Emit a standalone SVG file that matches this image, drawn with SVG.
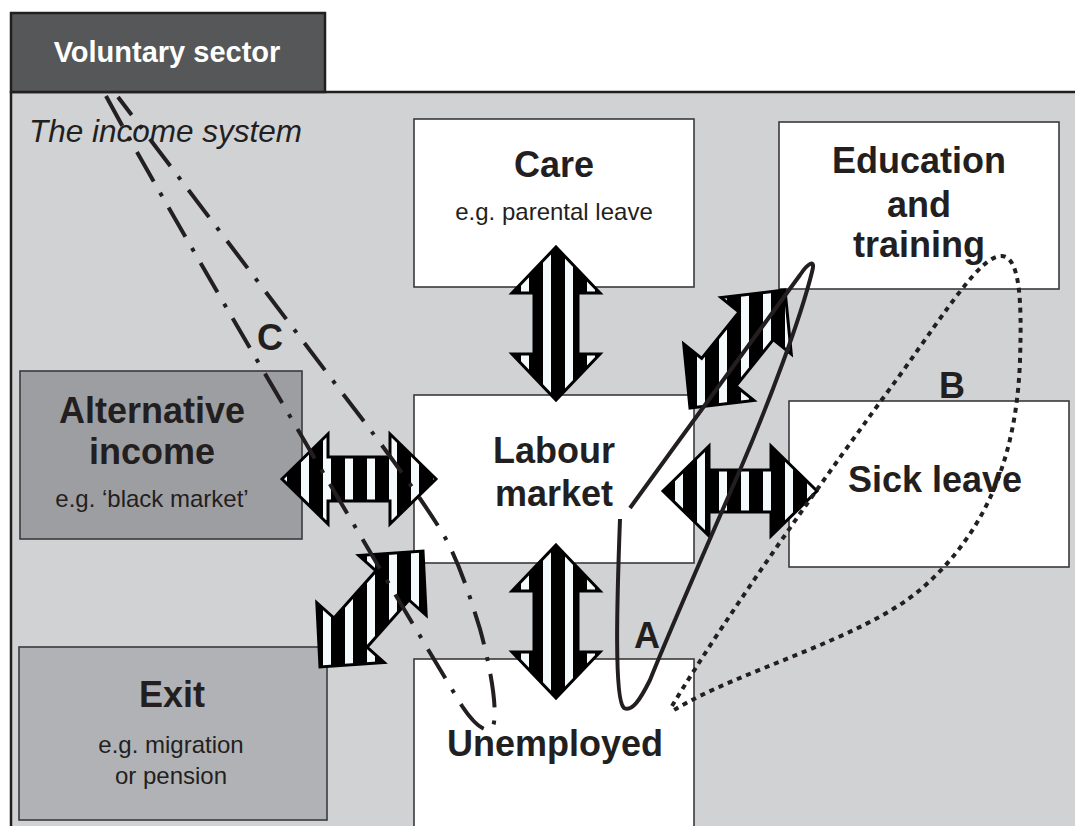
<svg xmlns="http://www.w3.org/2000/svg" width="1075" height="826" viewBox="0 0 1075 826">
<style>
.box{stroke:#3a3a3c;stroke-width:1.6}
.white{fill:#ffffff}
.t{font-family:"Liberation Sans",Arial,sans-serif;fill:#231f20;text-anchor:middle}
.title{font-weight:bold;font-size:36px}
.sub{font-size:24px}
.lbl{font-weight:bold;font-size:36px}
.arrow{fill:url(#stripes);stroke:#000;stroke-width:3;stroke-linejoin:miter}
.loop{fill:none;stroke:#231f20;stroke-width:4}
</style>
<defs>
<pattern id="stripes" patternUnits="userSpaceOnUse" x="15" y="0" width="22" height="10">
<rect x="0" y="0" width="22" height="10" fill="#000"/>
<rect x="0" y="0" width="8" height="10" fill="#f4f9fc"/>
</pattern>
</defs>

<g id="income-system">
<rect x="11" y="92" width="1080" height="760" fill="#d1d2d4" stroke="#231f20" stroke-width="2.5"/>
<text x="29" y="142" style="font-family:'Liberation Sans',Arial,sans-serif;font-style:italic;font-size:31.5px;fill:#231f20">The income system</text>
</g>

<g id="voluntary-sector">
<rect x="11" y="13" width="314" height="79" fill="#555759" stroke="#231f20" stroke-width="2.5"/>
<text x="167" y="62" class="t" style="font-weight:bold;font-size:29px;fill:#ffffff">Voluntary sector</text>
</g>

<g id="care">
<rect class="box white" x="414" y="119" width="280" height="168"/>
<text class="t title" x="554" y="177">Care</text>
<text class="t sub" x="554" y="220">e.g. parental leave</text>
</g>

<g id="education">
<rect class="box white" x="779" y="122" width="280" height="167"/>
<text class="t title" x="919" y="173">Education</text>
<text class="t title" x="919" y="217">and</text>
<text class="t title" x="919" y="257">training</text>
</g>

<g id="labour-market">
<rect class="box white" x="414" y="395" width="280" height="168"/>
<text class="t title" x="554" y="463">Labour</text>
<text class="t title" x="554" y="506">market</text>
</g>

<g id="sick-leave">
<rect class="box white" x="789" y="401" width="280" height="166"/>
<text class="t title" x="935" y="492">Sick leave</text>
</g>

<g id="unemployed">
<rect class="box white" x="414" y="659" width="280" height="200"/>
<text class="t title" x="555" y="756">Unemployed</text>
</g>

<g id="alternative-income">
<rect class="box" x="20" y="371" width="282" height="168" fill="#9d9ea1"/>
<text class="t title" x="152" y="423">Alternative</text>
<text class="t title" x="152" y="464">income</text>
<text class="t sub" x="152" y="507">e.g. ‘black market’</text>
</g>

<g id="exit">
<rect class="box" x="19" y="647" width="308" height="173" fill="#b1b2b5"/>
<text class="t title" x="172" y="707">Exit</text>
<text class="t sub" x="171" y="753">e.g. migration</text>
<text class="t sub" x="171" y="784">or pension</text>
</g>

<g id="connectors">
<path class="arrow" d="M556,247 L600,293 L578,293 L578,354 L600,354 L556,400 L512,354 L534,354 L534,293 L512,293 Z"/>
<path class="arrow" d="M556,545 L600,591 L578,591 L578,652 L600,652 L556,698 L512,652 L534,652 L534,591 L512,591 Z"/>
<path class="arrow" d="M282,479 L328,434 L328,457 L390,457 L390,434 L436,479 L390,524 L390,501 L328,501 L328,524 Z"/>
<path class="arrow" d="M663,491 L709,446 L709,470 L771,470 L771,446 L817,491 L771,536 L771,512 L709,512 L709,536 Z"/>
<path class="arrow" d="M690,408 L753.9,400.4 L735.9,386 L773.3,339.6 L791.3,354 L785,290 L721.1,297.6 L739.1,312 L701.7,358.4 L683.7,344 Z"/>
<path class="arrow" d="M423,551 L426.2,615.3 L409,600 L367,647.2 L384.2,662.5 L320,667 L316.8,602.7 L334,618 L376,570.8 L358.8,555.5 Z"/>

<path id="loop-A" class="loop" d="M630,508 C690,425 760,330 800,275 C808,263 816,258 812,272 C800,320 770,400 740,470 C705,550 670,630 650,680 C640,700 632,712 624,708 C614,700 617,600 620,519"/>
<path id="loop-B" class="loop" stroke-width="5" stroke-dasharray="5 5" d="M672,706 C730,610 830,470 900,375 C950,305 980,258 1000,256 C1020,254 1022,300 1020,360 C1017,450 990,530 920,590 C860,640 740,670 674,710"/>
<path id="loop-C" class="loop" stroke-dasharray="34 13 4 13" d="M106,96 C170,215 380,570 462,706 C474,724 486,734 492,728 C498,720 494,680 480,629 C468,590 458,560 442,532 C420,497 390,455 340,390 L118,97"/>
</g>

<g id="labels">
<text class="t lbl" x="647" y="648">A</text>
<text class="t lbl" x="952" y="398">B</text>
<text class="t lbl" x="270" y="350">C</text>
</g>
</svg>
